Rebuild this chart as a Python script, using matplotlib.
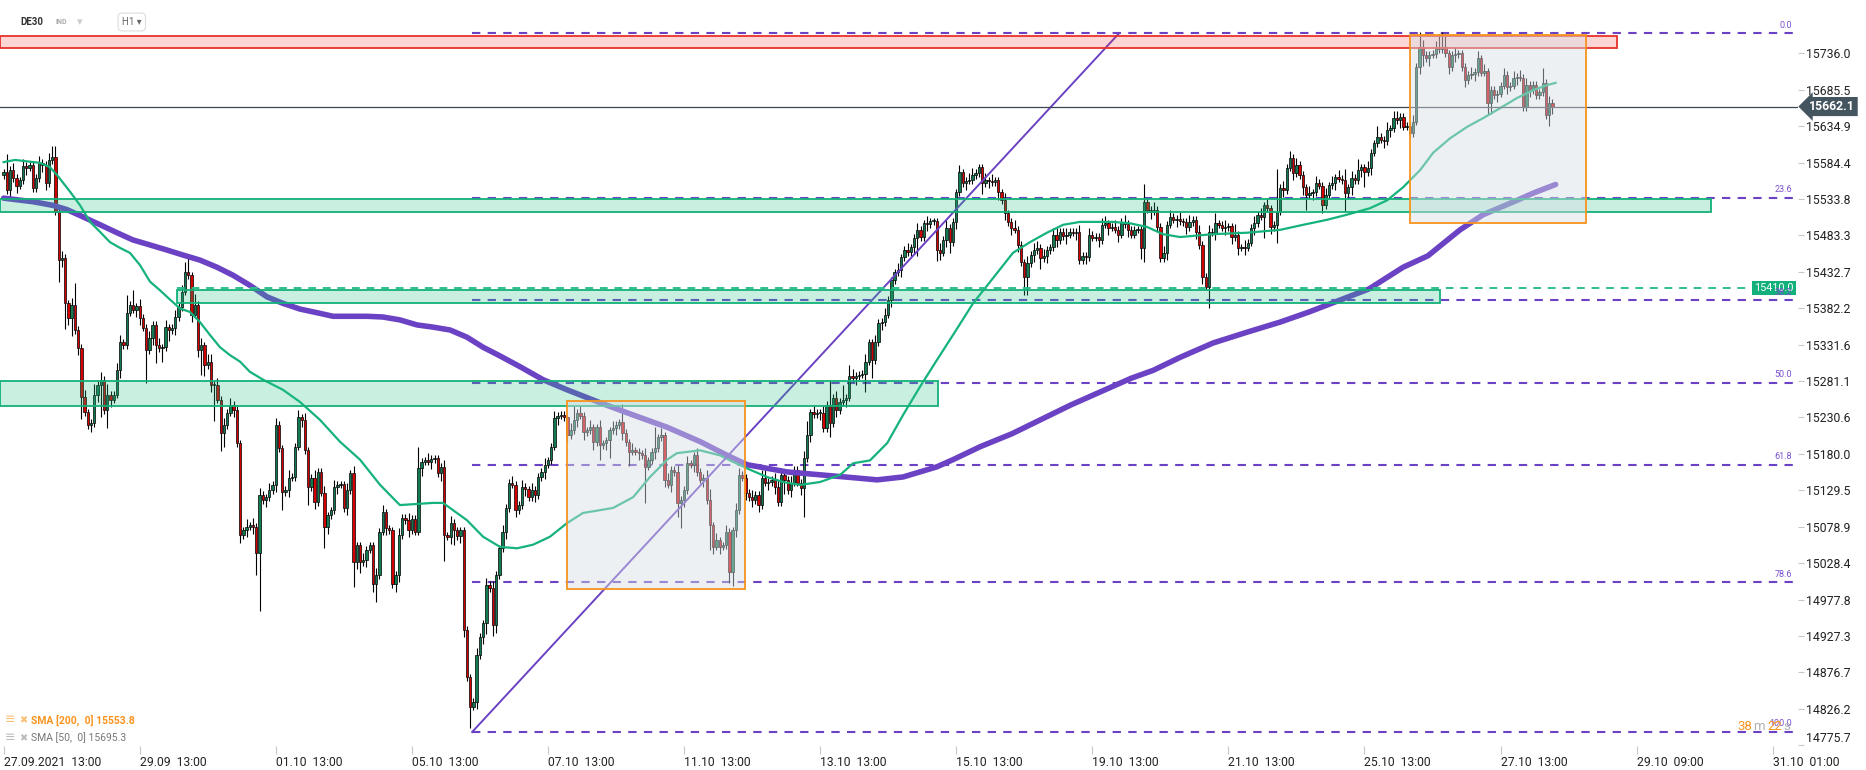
import numpy as np
import matplotlib.pyplot as plt
from matplotlib.patches import Rectangle
from matplotlib.transforms import blended_transform_factory

plt.rcParams['font.family'] = ['Roboto', 'DejaVu Sans']

# ---- hourly DE30 closes (27.09 13:00 -> 28.10), open = previous close
first_open = 15567
closes = [
    15571, 15546, 15574, 15563, 15552, 15560, 15580, 15577, 15581, 15549,
    15563, 15584, 15581, 15556, 15588, 15592, 15516, 15449, 15452, 15389,
    15369, 15387, 15352, 15327, 15259, 15238, 15220, 15223, 15262, 15276,
    15283, 15241, 15262, 15255, 15262, 15296, 15335, 15331, 15376, 15387,
    15380, 15385, 15369, 15355, 15324, 15341, 15359, 15331, 15327, 15328,
    15356, 15352, 15355, 15370, 15384, 15405, 15432, 15428, 15373, 15387,
    15324, 15331, 15303, 15308, 15276, 15276, 15255, 15209, 15220, 15237,
    15248, 15241, 15195, 15067, 15074, 15079, 15081, 15079, 15042, 15123,
    15116, 15120, 15130, 15137, 15220, 15188, 15127, 15130, 15147, 15148,
    15190, 15231, 15227, 15185, 15134, 15147, 15113, 15155, 15126, 15079,
    15095, 15102, 15134, 15137, 15138, 15105, 15130, 15153, 15030, 15053,
    15030, 15033, 15047, 15053, 14999, 15012, 15072, 15099, 15077, 15074,
    14999, 15012, 15067, 15091, 15088, 15074, 15090, 15072, 15160, 15169,
    15171, 15169, 15173, 15174, 15153, 15162, 15067, 15065, 15084, 15074,
    15066, 15074, 14936, 14870, 14829, 14836, 14901, 14926, 14945, 14998,
    14994, 14942, 15012, 15049, 15072, 15105, 15140, 15137, 15102, 15109,
    15134, 15131, 15120, 15130, 15123, 15148, 15155, 15165, 15171, 15190,
    15230, 15233, 15234, 15231, 15206, 15213, 15227, 15237, 15233, 15210,
    15213, 15217, 15196, 15217, 15192, 15195, 15199, 15213, 15216, 15220,
    15224, 15209, 15196, 15183, 15185, 15183, 15181, 15178, 15162, 15171,
    15183, 15188, 15203, 15206, 15144, 15137, 15158, 15155, 15112, 15116,
    15130, 15167, 15165, 15178, 15155, 15144, 15147, 15116, 15081, 15051,
    15060, 15051, 15053, 15072, 15016, 15074, 15102, 15151, 15147, 15126,
    15120, 15116, 15123, 15109, 15147, 15140, 15141, 15144, 15134, 15113,
    15151, 15144, 15130, 15140, 15158, 15140, 15133, 15174, 15206, 15238,
    15235, 15237, 15237, 15216, 15248, 15223, 15258, 15241, 15252, 15255,
    15258, 15288, 15285, 15288, 15290, 15291, 15308, 15335, 15310, 15335,
    15362, 15363, 15373, 15394, 15421, 15432, 15435, 15453, 15463, 15460,
    15467, 15480, 15491, 15481, 15500, 15499, 15503, 15503, 15463, 15459,
    15477, 15494, 15474, 15502, 15543, 15571, 15556, 15559, 15560, 15567,
    15570, 15578, 15556, 15560, 15559, 15557, 15560, 15543, 15532, 15514,
    15502, 15494, 15491, 15470, 15446, 15426, 15445, 15456, 15463, 15466,
    15452, 15455, 15463, 15467, 15484, 15477, 15488, 15482, 15484, 15488,
    15487, 15488, 15449, 15455, 15453, 15484, 15480, 15481, 15477, 15498,
    15500, 15494, 15495, 15491, 15484, 15502, 15499, 15491, 15484, 15491,
    15492, 15466, 15530, 15519, 15516, 15519, 15495, 15452, 15459, 15498,
    15509, 15505, 15506, 15503, 15502, 15495, 15502, 15505, 15488, 15470,
    15426, 15412, 15488, 15487, 15500, 15498, 15494, 15495, 15496, 15481,
    15484, 15466, 15467, 15466, 15473, 15494, 15500, 15512, 15509, 15525,
    15521, 15495, 15498, 15516, 15549, 15546, 15577, 15591, 15570, 15581,
    15567, 15550, 15539, 15542, 15543, 15556, 15552, 15525, 15539, 15553,
    15556, 15564, 15562, 15560, 15542, 15550, 15563, 15560, 15574, 15578,
    15571, 15577, 15598, 15611, 15620, 15616, 15614, 15630, 15632, 15646,
    15643, 15648, 15634, 15635, 15625, 15641, 15717, 15745, 15734, 15729,
    15734, 15735, 15743, 15742, 15745, 15736, 15717, 15734, 15735, 15736,
    15717, 15699, 15706, 15707, 15710, 15729, 15709, 15711, 15667, 15685,
    15678, 15680, 15691, 15706, 15689, 15691, 15702, 15703, 15702, 15661,
    15692, 15685, 15692, 15678, 15682, 15695, 15650, 15667, 15662,
]

# wick lengths, one base-36 digit per candle, in units of 5 points
wick_up = "".join([
    "1512112111", "1211233121", "1261121131", "2131122151", "4121121121",
    "2112123413", "1212212121", "2111121212", "1121211121", "1212112112",
    "1121112121", "1211121211", "1121121161", "1211112121", "1111112112",
    "1211211211", "2112111211", "2111124121", "1211211121", "1511211121",
    "1612121121", "1211211231", "2112112211", "1211221122", "2112111241",
    "2112171214", "1321112112", "1121112112", "1121121112", "1211121122",
    "1112121112", "1121112122", "1211221121", "1121121112", "2112112111",
    "1151121121", "2112112112", "1121311211", "3112112121", "211c121212",
    "1112121121", "2121312131", "1211311212", "2111121421", "1124431121",
    "1112121211", "1112112121", "211114121",
])
wick_dn = "".join([
    "1121211211", "1122111627", "2512611212", "9152112111", "1221912514",
    "1312111121", "27312a1541", "121212126g", "1211215121", "1121512116",
    "2112112172", "3121251121", "1221121112", "1121127124", "1221612123",
    "1321121121", "1211211211", "1211211212", "1121412512", "12141121a1",
    "1211212147", "2112112172", "1211342112", "1212112121", "1412112812",
    "1121141211", "2112115151", "1211211211", "1251121132", "1231211211",
    "1131211212", "1212155121", "3121121121", "1211211121", "1211211211",
    "1341211112", "1121121121", "2161211212", "1212112116", "1215121121",
    "1241211211", "1211512112", "4121112121", "1211111231", "2111112121",
    "1211211133", "1211211211", "121111132",
])
WICK_UNIT = 5

# moving averages (candle index, price)
sma50_i = [0, 3.5, 11.2, 14.3, 16.5, 20.5, 23.6, 26.7, 29.8, 32.8, 35.9, 39.0, 42.1, 45.2, 48.3,
           51.4, 54.4, 57.5, 60.6, 63.7, 66.8, 69.9, 73.0, 76.0, 80.1, 86.2, 91.5, 97.7, 103.8, 110.0,
           116.2, 122.3, 132.5, 135.6, 143.0, 148.0, 153.2, 158.5, 163.4, 168.6, 173.9, 178.8, 184.1,
           188.1, 194.3, 199.5, 204.8, 207.8, 214.9, 221.1, 225.1, 230.4, 235.6, 240.6, 245.8, 252.0,
           258.2, 262.2, 267.4, 272.7, 277.6, 282.8, 288.0, 293.0, 299.2, 306.6, 311.5, 316.8, 322.0,
           327.0, 332.2, 342.4, 347.7, 352.9, 357.8, 363.1, 373.3, 383.8, 394.0, 401.1, 408.5, 414.6,
           421.7, 427.0, 431.9, 437.2, 441.2, 446.4, 451.7, 456.6, 461.9, 467.1, 472.1, 476.4, 479.0]
sma50_p = [15585, 15588, 15584, 15578, 15567, 15544, 15525, 15502, 15488, 15474, 15466, 15459, 15442,
           15419, 15407, 15394, 15382, 15377, 15363, 15345, 15328, 15317, 15308, 15294, 15283, 15269,
           15252, 15227, 15197, 15172, 15137, 15109, 15112, 15112, 15088, 15065, 15051, 15049, 15054,
           15065, 15084, 15098, 15102, 15105, 15120, 15148, 15172, 15181, 15185, 15178, 15169, 15158,
           15148, 15141, 15137, 15141, 15151, 15167, 15171, 15195, 15234, 15273, 15310, 15345, 15389,
           15431, 15459, 15474, 15487, 15498, 15502, 15502, 15500, 15495, 15485, 15481, 15485, 15487,
           15491, 15498, 15505, 15512, 15521, 15532, 15550, 15574, 15598, 15618, 15634, 15646, 15660,
           15674, 15685, 15692, 15695]
sma200_i = [0, 9.1, 15.2, 19.6, 24.5, 29.8, 35.0, 39.9, 45.2, 50.4, 55.4, 60.6, 65.9, 70.8, 76.0,
            81.3, 86.2, 91.5, 96.7, 101.7, 112.2, 117.1, 122.3, 127.6, 132.5, 137.8, 143.0, 148.0,
            153.2, 159.4, 166.5, 173.9, 184.1, 194.3, 204.8, 215.0, 223.3, 229.5, 241.8, 252.0, 262.2,
            269.6, 277.6, 288.0, 293.0, 301.4, 311.2, 329.4, 348.0, 354.8, 363.1, 373.3, 383.8, 394.0,
            402.9, 421.4, 431.9, 439.6, 449.5, 456.6, 467.1, 472.1, 479.0]
sma200_p = [15535, 15530, 15525, 15519, 15509, 15498, 15487, 15477, 15470, 15463, 15456, 15449, 15439,
            15428, 15414, 15398, 15389, 15381, 15376, 15371, 15371, 15370, 15366, 15359, 15356, 15352,
            15342, 15328, 15316, 15301, 15283, 15269, 15251, 15234, 15217, 15197, 15178, 15165, 15155,
            15151, 15147, 15144, 15148, 15162, 15172, 15190, 15208, 15248, 15285, 15296, 15314, 15334,
            15349, 15363, 15377, 15409, 15439, 15455, 15491, 15512, 15532, 15542, 15554]

# fibonacci drawing
fib_lo, fib_hi = 14794, 15764
fib_lo_i, fib_hi_i = 144.6, 344.3
fib_levels = [0.0, 23.6, 38.2, 50.0, 61.8, 78.6, 100.0]

last_price = 15662.1
level_line = 15410.0

# zones: (start idx, end idx, low, high)
red_zone = (-1.0, 498, 15743, 15760)
green_zones = [(-1.0, 527, 15516, 15534), (53.5, 443.3, 15389, 15407), (-1.0, 288.4, 15246, 15281)]
boxes = [(174, 228.7, 14992, 15253), (434, 488.5, 15501, 15762)]

ytick_vals = [15736.0, 15685.5, 15634.9, 15584.4, 15533.8, 15483.3, 15432.7, 15382.2, 15331.6,
              15281.1, 15230.6, 15180.0, 15129.5, 15078.9, 15028.4, 14977.8, 14927.3, 14876.7,
              14826.2, 14775.7]
xtick_labels = ["27.09.2021  13:00", "29.09  13:00", "01.10  13:00", "05.10  13:00", "07.10  13:00",
                "11.10  13:00", "13.10  13:00", "15.10  13:00", "19.10  13:00", "21.10  13:00",
                "25.10  13:00", "27.10  13:00", "29.10  09:00", "31.10  01:00"]
CANDLES_PER_LABEL = 42

PURPLE = '#6b42c4'
GREEN_C = '#117a50'
RED_C = '#d40000'

n = len(closes)
o = np.array([first_open] + closes[:-1], float)
c = np.array(closes, float)
up = np.array([int(ch, 36) for ch in wick_up]) * WICK_UNIT
dn = np.array([int(ch, 36) for ch in wick_dn]) * WICK_UNIT
hi = np.maximum(o, c) + up
lo = np.minimum(o, c) - dn
x = np.arange(n)

fig = plt.figure(figsize=(18.66, 7.7), dpi=100)
ax = fig.add_axes([0, 24 / 770, 1798 / 1866, 746 / 770])
ax.set_xlim(-1.11, 553.8)
ax.set_ylim(14774.6, 15810)
for s in ax.spines.values():
    s.set_visible(False)

# fib levels
for lv in fib_levels:
    p = fib_hi - lv / 100 * (fib_hi - fib_lo)
    ax.plot([fib_lo_i, 552.5], [p, p], color=PURPLE, lw=1.5, ls=(0, (4, 3.5)), zorder=2)
    ax.text(552, p + 5, f"{lv:.1f}", color='#7a52cc', fontsize=6.5, ha='right', va='bottom', zorder=8)

# candles
rising = c >= o
ax.vlines(x, lo, hi, color='black', lw=0.8, zorder=3)
ax.bar(x, np.maximum(np.abs(c - o), 1.0), bottom=np.minimum(o, c), width=0.72,
       color=np.where(rising, GREEN_C, RED_C), edgecolor='black', linewidth=0.5, zorder=3.1)

# moving averages and trend line
ax.plot(sma200_i, sma200_p, color=PURPLE, lw=4, solid_capstyle='round', zorder=4)
ax.plot(sma50_i, sma50_p, color='#16b27c', lw=1.6, zorder=4)
ax.plot([fib_lo_i, fib_hi_i], [fib_lo, fib_hi], color=PURPLE, lw=1.4, zorder=4)
ax.axhline(last_price, color='#3b4750', lw=0.9, zorder=4.5)

# zones
x0, x1, y0, y1 = red_zone
ax.add_patch(Rectangle((x0, y0), x1 - x0, y1 - y0, facecolor=(0.96, 0.18, 0.18, 0.2),
                       edgecolor='#e8302a', lw=1.3, zorder=5))
for x0, x1, y0, y1 in green_zones:
    ax.add_patch(Rectangle((x0, y0), x1 - x0, y1 - y0, facecolor=(0.14, 0.76, 0.51, 0.25),
                           edgecolor='#13b07a', lw=1.3, zorder=5))
ax.plot([green_zones[1][0], 552.5], [level_line, level_line], color='#2fbf88', lw=1.4,
        ls=(0, (4, 3.5)), zorder=5.5)
for x0, x1, y0, y1 in boxes:
    ax.add_patch(Rectangle((x0, y0), x1 - x0, y1 - y0, facecolor=(0.84, 0.87, 0.9, 0.45),
                           edgecolor='#f7931e', lw=1.3, zorder=6))

# level labels
ax.text(546.5, level_line, "15410.0", color='white', fontsize=7.8, ha='center', va='center', zorder=7,
        bbox=dict(boxstyle='square,pad=0.2', fc='#12b07a', ec='none'))
tr = blended_transform_factory(ax.transAxes, ax.transData)
ax.text(1.006, last_price, "15662.1", transform=tr, color='white', fontsize=8.8, fontweight='bold',
        ha='left', va='center', zorder=9, clip_on=False,
        bbox=dict(boxstyle='larrow,pad=0.25', fc='#455560', ec='none'))

# axes ticks
ax.yaxis.tick_right()
ax.set_yticks(ytick_vals)
ax.set_yticklabels([f"{v:.1f}" for v in ytick_vals])
ax.tick_params(axis='y', length=4, color='#c8c8c8', labelsize=8.8, labelcolor='#222222', pad=2)
ax.get_yticklabels()[-1].set_verticalalignment('bottom')
ax.set_xticks([CANDLES_PER_LABEL * j for j in range(len(xtick_labels))])
ax.set_xticklabels(xtick_labels, ha='left')
ax.tick_params(axis='x', length=6, color='#c8c8c8', labelsize=8.7, labelcolor='#222222', pad=1)

# legend / header
W, H = 1866, 770
fig.text(5 / W, 1 - 720 / H, "≡", color='#fbbf74', fontsize=9, va='center', family='DejaVu Sans')
fig.text(19 / W, 1 - 720 / H, "✖", color='#fbbf74', fontsize=7, va='center', family='DejaVu Sans')
fig.text(31 / W, 1 - 720 / H, "SMA [200,  0] 15553.8", color='#f7931e', fontsize=7.5,
         fontweight='bold', va='center')
fig.text(5 / W, 1 - 738 / H, "≡", color='#bbbbbb', fontsize=9, va='center', family='DejaVu Sans')
fig.text(19 / W, 1 - 738 / H, "✖", color='#bbbbbb', fontsize=7, va='center', family='DejaVu Sans')
fig.text(31 / W, 1 - 738 / H, "SMA [50,  0] 15695.3", color='#777777', fontsize=7.5, va='center')

fig.text(1737 / W, 1 - 726 / H, "38", color='#f7931e', fontsize=9.5, va='center')
fig.text(1753 / W, 1 - 726 / H, "m", color='#b0b0b0', fontsize=9.5, va='center')
fig.text(1767 / W, 1 - 726 / H, "22", color='#f7931e', fontsize=9.5, va='center')
fig.text(1783 / W, 1 - 726 / H, "s", color='#b0b0b0', fontsize=9.5, va='center')

fig.text(20 / W, 1 - 22 / H, "DE30", color='#333333', fontsize=7, fontweight='bold', va='center')
fig.text(55 / W, 1 - 22 / H, "IND", color='#aaaaaa', fontsize=5, fontweight='bold', va='center')
fig.text(77 / W, 1 - 22 / H, "▾", color='#cccccc', fontsize=8, va='center', family='DejaVu Sans')
fig.text(122 / W, 1 - 22 / H, "H1 ▾", color='#666666', fontsize=7, va='center',
         family=['Roboto', 'DejaVu Sans'],
         bbox=dict(boxstyle='round,pad=0.4', fc='white', ec='#dddddd', lw=0.8))

fig.savefig('out.png', dpi=100)
